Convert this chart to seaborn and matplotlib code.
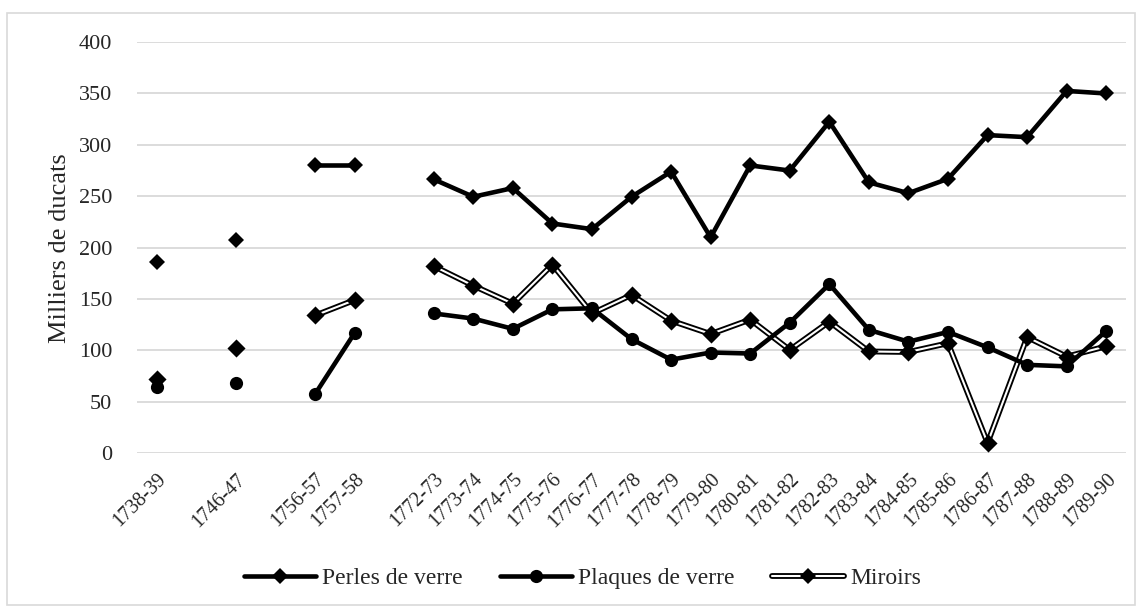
import numpy as np
import pandas as pd
import matplotlib
matplotlib.use('Agg')
import matplotlib.pyplot as plt
from matplotlib.lines import Line2D
from matplotlib.legend_handler import HandlerTuple
from matplotlib.patches import Rectangle
import seaborn as sns

# Data (milliers de ducats) - empty labels are gaps in the category axis
periods = ['1738-39', '', '1746-47', '', '1756-57', '1757-58', '',
           '1772-73', '1773-74', '1774-75', '1775-76', '1776-77', '1777-78',
           '1778-79', '1779-80', '1780-81', '1781-82', '1782-83', '1783-84',
           '1784-85', '1785-86', '1786-87', '1787-88', '1788-89', '1789-90']
nan = np.nan
perles = [186.5, nan, 207, nan, 280.5, 280.5, nan,
          266.5, 249.5, 258, 223.5, 218, 249.5,
          274, 210, 280, 275, 322.5, 263.5,
          253, 267, 309.5, 307.5, 352.5, 350]
plaques = [64, nan, 68, nan, 57.5, 117, nan,
           136, 131, 121, 140, 141, 111,
           91, 98, 97, 127, 164.5, 120,
           108.5, 118, 103, 86, 84.5, 119]
miroirs = [72, nan, 102, nan, 134, 149, nan,
           182, 163, 145.5, 183.5, 136, 154,
           129, 116, 130, 100.5, 128, 99,
           98.5, 107, 10, 113, 94, 104]

sns.set_style('white')
plt.rcParams['font.family'] = ['Liberation Serif', 'DejaVu Serif']


def to_long(values, name):
    # one row per point, with a segment id so gaps are not bridged
    df = pd.DataFrame({'x': np.arange(len(values)), 'value': values})
    df['seg'] = df['value'].isna().cumsum()
    df['serie'] = name
    return df.dropna()


df_perles = to_long(perles, 'Perles de verre')
df_plaques = to_long(plaques, 'Plaques de verre')
df_miroirs = to_long(miroirs, 'Miroirs')

fig = plt.figure(figsize=(11.42, 6.10), dpi=100)
ax = fig.add_axes([0.12, 0.257, 0.866, 0.674])

# Miroirs: double line (black outer, white inner)
sns.lineplot(data=df_miroirs, x='x', y='value', units='seg', estimator=None,
             color='black', lw=4.2, ax=ax, zorder=3)
sns.lineplot(data=df_miroirs, x='x', y='value', units='seg', estimator=None,
             color='white', lw=1.5, ax=ax, zorder=4)
sns.scatterplot(data=df_miroirs, x='x', y='value', marker='D', color='black',
                s=85, edgecolor='black', linewidth=0, ax=ax, zorder=5)

# Plaques de verre
sns.lineplot(data=df_plaques, x='x', y='value', units='seg', estimator=None,
             color='black', lw=3.3, marker='o', markersize=9.5,
             markeredgewidth=0, ax=ax, zorder=6)

# Perles de verre
sns.lineplot(data=df_perles, x='x', y='value', units='seg', estimator=None,
             color='black', lw=3.3, marker='D', markersize=8.5,
             markeredgewidth=0, ax=ax, zorder=7)

ax.set_xlim(-0.5, len(periods) - 0.5)
ax.set_ylim(0, 400)
ax.set_yticks(np.arange(0, 401, 50))
ax.set_xticks(np.arange(len(periods)))
ax.set_xticklabels(periods, rotation=45, ha='right', rotation_mode='anchor',
                   fontsize=14.5)
ax.tick_params(axis='y', labelsize=16, length=0, pad=18)
ax.tick_params(axis='x', length=0, pad=12)
ax.grid(axis='y', color='#d9d9d9', lw=1.3)
ax.set_axisbelow(True)
for s in ax.spines.values():
    s.set_visible(False)
ax.set_xlabel('')
ax.set_ylabel('Milliers de ducats', fontsize=19)
ax.yaxis.set_label_coords(-0.067, 0.5)

# Legend
h_perles = Line2D([], [], color='black', lw=3.3, marker='D', markersize=8.5, markeredgewidth=0)
h_plaques = Line2D([], [], color='black', lw=3.3, marker='o', markersize=9.5, markeredgewidth=0)
h_mir_out = Line2D([], [], color='black', lw=4.2)
h_mir_in = Line2D([], [], color='white', lw=1.5)
h_mir_mk = Line2D([], [], color='black', lw=0, marker='D', markersize=8.5, markeredgewidth=0)
fig.legend([h_perles, h_plaques, (h_mir_out, h_mir_in, h_mir_mk)],
           ['Perles de verre', 'Plaques de verre', 'Miroirs'],
           handler_map={tuple: HandlerTuple(ndivide=1)},
           loc='center', bbox_to_anchor=(0.51, 0.052), ncol=3, frameon=False,
           fontsize=17, handlelength=3.05, handletextpad=0.25, columnspacing=1.6)

# Chart area border
fig.patches.append(Rectangle((0.006, 0.008), 0.988, 0.971, transform=fig.transFigure,
                             fill=False, edgecolor='#d9d9d9', lw=1.2))

plt.savefig('out.png', dpi=100)
plt.close()
